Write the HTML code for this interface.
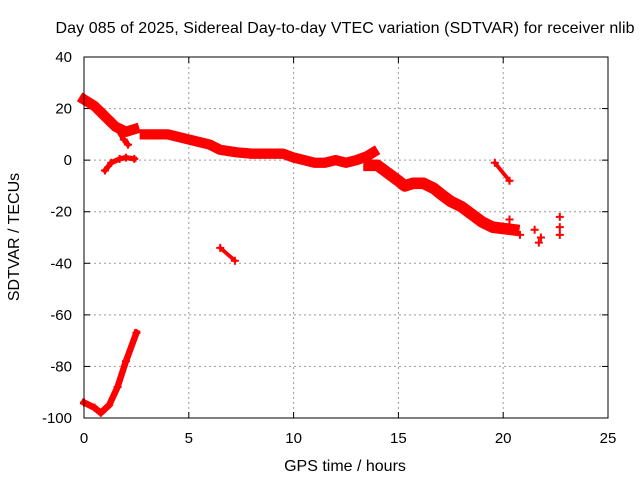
<!DOCTYPE html>
<html><head><meta charset="utf-8"><style>
body{margin:0;background:#fff}
svg{display:block;font-family:"Liberation Sans",sans-serif}
</style></head><body>
<svg id="c" width="640" height="480">
<text x="345" y="33" font-size="16" text-anchor="middle" textLength="579">Day 085 of 2025, Sidereal Day-to-day VTEC variation (SDTVAR) for receiver nlib</text>
<text x="345" y="471" font-size="16" text-anchor="middle">GPS time / hours</text>
<text transform="translate(19,237) rotate(-90)" font-size="16" text-anchor="middle">SDTVAR / TECUs</text>
<g id="grid"></g><g id="marks"></g>
<rect x="84" y="57" width="524" height="361" fill="none" stroke="#000" stroke-width="1"/>
</svg>
<script>
const xTicks=[0,5,10,15,20,25];
const yTicks=[40,20,0,-20,-40,-60,-80,-100];
const seriesA=[[0,23.5],[0.5,21],[1,17],[1.5,13],[2,11],[2.4,12]];
const seriesA2=[[1.6,12],[1.9,8],[2.1,6]];
const seriesB=[[2.9,10],[3.5,10],[4,10],[5,8],[6,6],[6.5,4],[7.3,3],[8,2.5],[9,2.5],[9.5,2.5],[10,1],[10.5,0],[11,-1],[11.5,-1],[12,0],[12.5,-1],[13,0],[13.5,1.5],[13.8,3]];
const seriesC=[[13.6,-2],[14,-2],[14.5,-5],[15,-8],[15.3,-10],[15.7,-9],[16.2,-9],[16.7,-11],[17,-13],[17.5,-16],[18,-18],[18.5,-21],[19,-24],[19.5,-26],[20,-26.5],[20.5,-27]];
const seriesD=[[1.0,-4],[1.3,-1],[1.7,0.5],[2.0,1],[2.4,0.5]];
const seriesE=[[6.5,-34],[7.2,-39]];
const seriesF=[[19.6,-1],[20.3,-8]];
const seriesG=[[0,-94],[0.5,-96],[0.8,-98],[1.2,-95],[1.6,-88],[2.0,-78],[2.5,-67]];
const seriesH=[[20.3,-23],[20.8,-29],[21.5,-27],[21.8,-30],[21.7,-32],[22.7,-22],[22.7,-26],[22.7,-29]];
const widths={A:4,A2:2,B:4,C:4.5,D:2,E:1.5,F:1.5,G:2.5,H:0};
const X=t=>84+t*524/25, Y=v=>57+(40-v)*361/140;
const NS='http://www.w3.org/2000/svg';
const g=document.getElementById('grid'), m=document.getElementById('marks');
function el(tag,attrs,parent){const e=document.createElementNS(NS,tag);for(const k in attrs)e.setAttribute(k,attrs[k]);parent.appendChild(e);return e;}
xTicks.forEach(t=>{
  if(t>0&&t<25){const l=el('line',{x1:X(t),x2:X(t),y1:57,y2:418,stroke:'#999','stroke-dasharray':'2,3'},g);
  
  }
  el('line',{x1:X(t),x2:X(t),y1:418,y2:412,stroke:'#000'},g);
  el('line',{x1:X(t),x2:X(t),y1:57,y2:63,stroke:'#000'},g);
  const tx=el('text',{x:X(t),y:443,'font-size':15,'text-anchor':'middle'},g);tx.textContent=t;
  
  
});
yTicks.forEach(v=>{
  if(v<40&&v>-100){const l=el('line',{x1:84,x2:608,y1:Y(v),y2:Y(v),stroke:'#999','stroke-dasharray':'2,3'},g);
  
  }
  el('line',{x1:84,x2:90,y1:Y(v),y2:Y(v),stroke:'#000'},g);
  el('line',{x1:602,x2:608,y1:Y(v),y2:Y(v),stroke:'#000'},g);
  const tx=el('text',{x:72,y:Y(v)+5,'font-size':15,'text-anchor':'end'},g);tx.textContent=v;
  
  
});
function draw(name,pts,w){
  if(w>0){const p=el('polyline',{points:pts.map(p=>X(p[0])+','+Y(p[1])).join(' '),fill:'none',stroke:'#f00','stroke-width':w*361/140,'stroke-linejoin':'round','stroke-linecap':'square'},m);
  
  }
  pts.forEach(p=>{const x=X(p[0]),y=Y(p[1]);
    const k=el('path',{d:`M${x-4},${y}H${x+4}M${x},${y-4}V${y+4}`,stroke:'#f00','stroke-width':2},m);
    
    });
}
draw('a',seriesA,widths.A);draw('a2',seriesA2,widths.A2);draw('b',seriesB,widths.B);
draw('c',seriesC,widths.C);draw('d',seriesD,widths.D);draw('e',seriesE,widths.E);
draw('f',seriesF,widths.F);draw('g',seriesG,widths.G);draw('h',seriesH,widths.H);
</script>
</body></html>
